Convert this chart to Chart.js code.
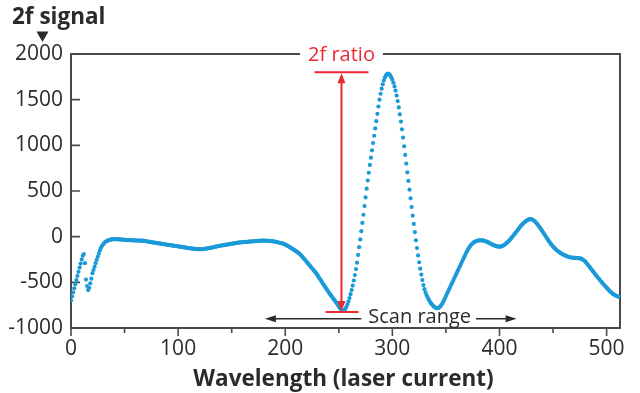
<!DOCTYPE html>
<html><head><meta charset="utf-8">
<script src="https://cdn.jsdelivr.net/npm/chart.js@4/dist/chart.umd.min.js"></script>
<style>html,body{margin:0;padding:0;background:#fff;}canvas{display:block;}</style>
</head><body>
<canvas id="c" width="640" height="393"></canvas>
<script>
// 2f signal, one reading per sample (laser current index 0..512)
const signal = [
-700,-655,-610,-565,-520,-475,-430,-385,-340,-295,-250,-210,-190,
-290,-470,-540,-585,-560,-510,-460,-400,
-365,-330,-290,-255,-220,-185,-150,-120,-100,-85,-70,-58,-50,-44,-40,-36,-33,-30,-28,-27,
-27,-28,-28,-29,-30,-30,-31,-32,-33,-34,
-36,-37,-37,-38,-38,-39,-40,-40,-41,-41,
-42,-42,-43,-43,-43,-44,-44,-46,-48,-50,
-52,-54,-56,-58,-60,-62,-64,-66,-68,-70,-71,-73,
-75,-77,-79,-81,-83,-85,-87,-89,-90,-92,-94,-96,-97,-99,-100,-102,
-104,-106,-108,-110,-112,-114,-116,-118,-120,-122,-124,-126,-127,-129,-130,-132,-133,-134,-135,-136,-137,-138,
-138,-137,-136,-135,-133,-131,-129,-127,-125,-123,-121,-119,-116,-113,-110,-107,-105,-102,
-100,-98,-96,-94,-92,-90,-88,-86,-84,-82,-80,-78,-76,-74,-72,-70,-68,-66,-65,-63,-62,-61,-60,-59,-58,-57,-56,-55,
-54,-53,-52,-51,-50,-49,-48,-47,-46,-45,-45,-44,-44,-44,-44,-44,-45,-45,-46,
-47,-48,-50,-52,-54,-56,-58,-61,-64,-67,-70,-73,
-77,-82,-87,-93,-99,-106,-113,-120,-127,-135,-143,-151,-159,-167,-175,-182,
-195,-208,-221,-234,-248,-262,-276,-290,-304,-318,-332,-346,-360,-374,-388,-402,
-420,-438,-456,-474,-492,-510,-528,-546,-564,-582,-600,
-616,-632,-648,-664,-680,-696,-712,-728,-745,-765,-782,-796,-806,-810,
-806,-792,-770,-742,-710,-672,-630,-585,-535,-480,-420,-355,-285,
-200,-115,-30,60,150,240,335,430,525,615,700,785,865,945,1025,1105,1185,1265,1345,1425,1500,1565,1620,1668,1710,1742,1765,1780,1785,
1780,1765,1745,1718,1685,1645,1600,1545,1485,1415,1340,1260,1175,1085,990,895,800,705,610,515,420,325,230,140,50,-40,-125,-205,-280,-350,-415,-475,
-530,-575,-612,-642,-667,-690,-710,-728,-744,-757,-768,-776,-781,-783,-781,
-772,-760,-744,-725,-702,-678,-650,-625,-600,-575,-550,-525,-500,-475,-450,-425,-400,-375,-350,-325,-300,-275,-250,-225,-200,-175,
-152,-132,-114,-98,-84,-72,-63,-56,-50,-46,-43,-41,-40,-40,-41,-43,-46,-50,-55,-60,-66,-72,-78,-84,-90,-95,-100,-104,-107,-109,-110,
-109,-106,-101,-94,-86,-76,-66,-55,-43,-30,-16,-2,12,27,42,57,72,88,104,118,131,143,154,164,173,181,187,191,192,190,
185,177,167,155,141,126,110,94,77,60,42,24,6,-12,-30,-47,-63,-79,-94,-108,-121,-133,-144,-154,-163,-171,-179,-186,-193,-199,
-205,-210,-215,-219,-223,-226,-228,-230,-231,-232,-233,-234,-235,-236,-238,-241,-246,-253,-262,-273,-286,-300,-315,-330,-345,-360,-375,-390,-405,-420,
-435,-450,-464,-478,-492,-506,-520,-533,-546,-559,-572,-585,-597,-608,-618,-627,-635,-642,-648,-653,-657,-660
];
const xTicks = [0, 100, 200, 300, 400, 500];
const xMinorTicks = [50, 150, 250, 350, 450];
const yTicks = [-1000, -500, 0, 500, 1000, 1500, 2000];
const yAxisLabel = '2f signal';
const xAxisLabel = 'Wavelength (laser current)';
const ratioLabel = '2f ratio';
const scanLabel = 'Scan range';
// annotation anchors in data units
const ratioX = 252.5, ratioTop = 1800, ratioBottom = -825;
const scanFrom = 181, scanTo = 416, scanTextX = 325.5, scanY = -900;

const BLUE = '#1b9ad8', RED = '#ec2a33', INK = '#2b2b2b', AXIS = '#4a4a4a';
const FONT = '"Open Sans", "Noto Sans", sans-serif';

const points = signal.map((v, i) => ({x: i, y: v}));

function arrowHead(ctx, x, y, dir, len, half) {
  ctx.beginPath();
  if (dir === 'up') { ctx.moveTo(x, y); ctx.lineTo(x - half, y + len); ctx.lineTo(x + half, y + len); }
  if (dir === 'down') { ctx.moveTo(x, y); ctx.lineTo(x - half, y - len); ctx.lineTo(x + half, y - len); }
  if (dir === 'left') { ctx.moveTo(x, y); ctx.lineTo(x + len, y - half); ctx.lineTo(x + len, y + half); }
  if (dir === 'right') { ctx.moveTo(x, y); ctx.lineTo(x - len, y - half); ctx.lineTo(x - len, y + half); }
  ctx.closePath(); ctx.fill();
}

const decor = {
  id: 'decor',
  beforeDatasetsDraw(chart) {
    const {ctx, chartArea: a, scales: {x, y}} = chart;
    ctx.save();
    ctx.strokeStyle = AXIS; ctx.lineWidth = 2;
    ctx.strokeRect(a.left, a.top, a.right - a.left, a.bottom - a.top);
    ctx.lineWidth = 1.6;
    ctx.beginPath();
    yTicks.forEach(v => { const p = y.getPixelForValue(v); ctx.moveTo(a.left, p); ctx.lineTo(a.left + 9, p); });
    xTicks.forEach(v => { const p = x.getPixelForValue(v); ctx.moveTo(p, a.bottom); ctx.lineTo(p, a.bottom + 8); });
    xMinorTicks.forEach(v => { const p = x.getPixelForValue(v); ctx.moveTo(p, a.bottom); ctx.lineTo(p, a.bottom + 5); });
    ctx.stroke();
    ctx.restore();
  },
  afterDraw(chart) {
    const {ctx, chartArea: a, scales: {x, y}} = chart;
    ctx.save();
    ctx.fillStyle = INK;
    ctx.font = 'bold 22.5px ' + FONT;
    ctx.textAlign = 'left'; ctx.textBaseline = 'alphabetic';
    ctx.fillText(yAxisLabel, 12, 24);
    ctx.beginPath(); ctx.moveTo(36.5, 31.5); ctx.lineTo(48.5, 31.5); ctx.lineTo(42.5, 42); ctx.closePath(); ctx.fill();
    ctx.textAlign = 'center';
    ctx.fillText(xAxisLabel, (a.left + a.right) / 2 - 2, 386);

    // 2f ratio
    const rx = x.getPixelForValue(ratioX);
    const rt = y.getPixelForValue(ratioTop);
    const rb = y.getPixelForValue(ratioBottom);
    ctx.font = '20px ' + FONT;
    const tw = ctx.measureText(ratioLabel).width;
    ctx.fillStyle = '#fff';
    ctx.fillRect(rx - tw / 2 - 8, a.top - 3, tw + 16, 6);
    ctx.fillStyle = RED;
    ctx.textBaseline = 'middle';
    ctx.fillText(ratioLabel, rx, a.top + 1);
    ctx.strokeStyle = RED; ctx.lineWidth = 2;
    ctx.beginPath();
    ctx.moveTo(rx - 27, rt); ctx.lineTo(rx + 27, rt);
    ctx.moveTo(rx - 16, rb); ctx.lineTo(rx + 17, rb);
    ctx.moveTo(rx, rt + 8); ctx.lineTo(rx, rb - 8);
    ctx.stroke();
    arrowHead(ctx, rx, rt + 1, 'up', 10, 4);
    arrowHead(ctx, rx, rb - 1, 'down', 10, 4);

    // scan range
    const sL = x.getPixelForValue(scanFrom), sR = x.getPixelForValue(scanTo);
    const sy = y.getPixelForValue(scanY);
    const cx = x.getPixelForValue(scanTextX);
    ctx.font = '20px ' + FONT;
    const sw = ctx.measureText(scanLabel).width;
    ctx.fillStyle = INK;
    ctx.fillText(scanLabel, cx, sy - 2);
    ctx.strokeStyle = INK; ctx.lineWidth = 1.5;
    ctx.beginPath();
    ctx.moveTo(sL + 8, sy); ctx.lineTo(cx - sw / 2 - 7, sy);
    ctx.moveTo(cx + sw / 2 + 5, sy); ctx.lineTo(sR - 8, sy);
    ctx.stroke();
    arrowHead(ctx, sL, sy, 'left', 11, 3.5);
    arrowHead(ctx, sR, sy, 'right', 11, 3.5);
    ctx.restore();
  }
};

new Chart(document.getElementById('c'), {
  type: 'scatter',
  data: { datasets: [{ data: points, pointRadius: 2.1, pointHoverRadius: 2.1, pointBorderWidth: 0,
    pointBackgroundColor: BLUE, backgroundColor: BLUE, borderColor: BLUE, showLine: false }] },
  options: {
    responsive: false, animation: false, devicePixelRatio: 1,
    layout: { padding: { top: 54, right: 20, left: 0, bottom: 0 } },
    plugins: { legend: { display: false }, tooltip: { enabled: false } },
    scales: {
      x: {
        type: 'linear', min: 0, max: 512.5,
        afterBuildTicks: s => { s.ticks = xTicks.map(v => ({value: v})); },
        afterFit: s => { s.height = 65; },
        grid: { display: false, drawTicks: false },
        border: { display: false },
        ticks: { color: INK, font: { family: FONT, size: 21 }, padding: 8, maxRotation: 0, autoSkip: false,
          callback: v => String(v) }
      },
      y: {
        min: -1000, max: 2000,
        afterBuildTicks: s => { s.ticks = yTicks.map(v => ({value: v})); },
        afterFit: s => { s.width = 71; },
        grid: { display: false, drawTicks: false },
        border: { display: false },
        ticks: { color: INK, font: { family: FONT, size: 21 }, padding: 8, callback: v => String(v) }
      }
    }
  },
  plugins: [decor]
});
</script>
</body></html>
